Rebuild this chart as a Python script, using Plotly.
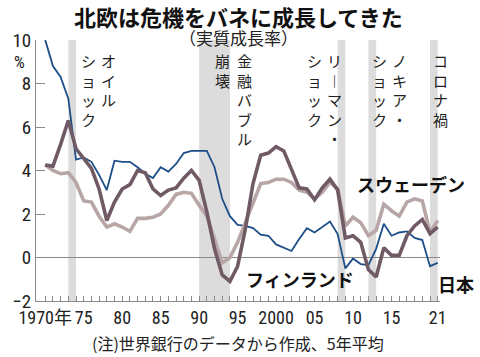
import plotly.graph_objects as go

# ---- data (5-year average real GDP growth, %) ----
years = list(range(1970, 2022))

japan = [10.0, 8.8, 8.3, 7.3, 4.5, 4.6, 4.4, 3.8, 3.1, 4.45,
         4.4, 4.4, 4.15, 3.85, 3.65, 4.15, 3.95, 4.3, 4.8, 4.9,
         4.9, 4.9, 4.15, 2.7, 1.9, 1.5, 1.45, 1.35, 1.05, 1.0,
         0.6, 0.45, 0.3, 0.85, 1.35, 1.15, 1.4, 1.65, 1.08, -0.5,
         -0.05, -0.3, -0.35, 0.4, 1.55, 1.0, 1.15, 1.2, 0.9, 0.8,
         -0.4, -0.25]

finland = [4.25, 4.2, 5.2, 6.3, 5.0, 4.55, 4.1, 3.15, 1.7, 2.55,
           3.15, 3.35, 4.0, 3.9, 3.15, 2.85, 3.1, 3.2, 3.65, 4.0,
           3.55, 2.1, 0.4, -0.8, -1.1, -0.4, 1.3, 3.4, 4.7, 4.8,
           5.1, 4.9, 4.1, 3.2, 3.15, 2.65, 3.2, 3.6, 3.1, 0.9,
           1.0, 0.7, -0.55, -0.9, 0.45, 0.1, 0.1, 1.0, 1.45, 1.75,
           1.1, 1.4]

sweden = [4.25, 4.0, 3.85, 3.9, 3.45, 2.6, 2.55, 1.9, 1.4, 1.55,
          1.4, 1.2, 1.8, 1.8, 1.85, 2.0, 2.4, 2.9, 3.0, 2.95,
          2.4, 1.9, 0.85, -0.25, 0.0, 0.7, 1.6, 2.5, 3.4, 3.45,
          3.6, 3.6, 3.45, 3.1, 3.0, 2.7, 3.0, 3.45, 3.15, 1.45,
          1.85, 1.6, 1.0, 1.25, 2.45, 2.15, 1.9, 2.55, 2.7, 2.6,
          1.15, 1.7]

band_starts = [1973, 1990, 2008, 2012, 2020]
band_ends = [1974, 1994, 2009, 2013, 2021]

y_ticks = [-2, 0, 2, 4, 6, 8, 10]
x_label_years = [1970, 1975, 1980, 1985, 1990, 1995, 2000, 2005, 2010, 2015, 2021]
x_label_text = ["1970年", "75", "80", "85", "90", "95", "2000", "05", "10", "15", "21"]

# vertical event labels: (text column, x position in years)
event_columns = [
    ("オイル", 1978.25), ("ショック", 1975.65),
    ("金融バブル", 1995.85), ("崩壊", 1993.05),
    ("リ︱マン・", 2007.55), ("ショック", 2004.95),
    ("ノキア・", 2016.1), ("ショック", 2013.45),
    ("コロナ禍", 2021.3),
]

series_labels = [("スウェーデン", 2017.5, 3.4), ("フィンランド", 2003.1, -1.0)]

# ---- figure ----
NUM_FONT = "Liberation Sans Narrow, Roboto Condensed, Liberation Sans, Arial"
JP_FONT = "Noto Sans CJK JP, Noto Sans CJK SC, sans-serif"

fig = go.Figure()

for s, e in zip(band_starts, band_ends):
    fig.add_shape(type="rect", xref="x", yref="y", x0=s, x1=e, y0=-2, y1=10,
                  fillcolor="#dcdcdc", line=dict(width=0), layer="below")

x_tick_vals = years
x_tick_text = [x_label_text[x_label_years.index(y)] if y in x_label_years else "" for y in years]

fig.add_trace(go.Scatter(x=years, y=japan, mode="lines", name="日本",
                         line=dict(color="#1d4e88", width=1.8), hoverinfo="skip"))
fig.add_trace(go.Scatter(x=years, y=sweden, mode="lines", name="スウェーデン",
                         line=dict(color="#b8a6a7", width=3.6), hoverinfo="skip"))
fig.add_trace(go.Scatter(x=years, y=finland, mode="lines", name="フィンランド",
                         line=dict(color="#705a66", width=3.6), hoverinfo="skip"))

for text, xpos in event_columns:
    fig.add_annotation(x=xpos, y=9.62, xref="x", yref="y", xanchor="center", yanchor="top",
                       text="<br>".join(list(text)), showarrow=False,
                       font=dict(family=JP_FONT, size=15, color="#222"))

for text, xpos, ypos in series_labels:
    fig.add_annotation(x=xpos, y=ypos, xref="x", yref="y", xanchor="center", yanchor="middle",
                       text="<b>" + text + "</b>", showarrow=False,
                       font=dict(family=JP_FONT, size=18, color="#111"))

fig.add_annotation(x=1.0, y=-1.2, xref="paper", yref="y", xanchor="left", yanchor="middle",
                   xshift=-4, text="<b>日本</b>", showarrow=False,
                   font=dict(family=JP_FONT, size=18, color="#111"))

fig.add_annotation(x=0.5, y=1.0, xref="paper", yref="paper", xanchor="center", yanchor="middle",
                   yshift=24, text="<b>北欧は危機をバネに成長してきた</b>", showarrow=False,
                   font=dict(family=JP_FONT, size=22, color="#111"))
fig.add_annotation(x=0.5, y=1.0, xref="paper", yref="paper", xanchor="center", yanchor="middle",
                   yshift=3, text="（実質成長率）", showarrow=False,
                   font=dict(family=JP_FONT, size=17, color="#222"))
fig.add_annotation(x=0.5, y=0, xref="paper", yref="paper", xanchor="center", yanchor="middle",
                   yshift=-42, text="(注)世界銀行のデータから作成、5年平均", showarrow=False,
                   font=dict(family=JP_FONT, size=16, color="#222"))
fig.add_annotation(x=0, y=10, xref="paper", yref="y", xanchor="right", yanchor="middle",
                   xshift=-9, yshift=-22, text="%", showarrow=False,
                   font=dict(family=NUM_FONT, size=17, color="#222"))

fig.update_layout(
    width=480, height=357,
    margin=dict(l=36, r=40, t=40, b=56),
    paper_bgcolor="white", plot_bgcolor="white",
    showlegend=False,
    font=dict(family=NUM_FONT, color="#222"),
)
fig.update_xaxes(range=[1968.8, 2021.3], showgrid=False, zeroline=False,
                 showline=True, linecolor="#8a8a8a", linewidth=1,
                 ticks="inside", ticklen=5, tickcolor="#8a8a8a",
                 tickmode="array", tickvals=x_tick_vals, ticktext=x_tick_text,
                 tickfont=dict(family=NUM_FONT + ", " + JP_FONT, size=18, color="#222"),
                 tickangle=0, fixedrange=True)
fig.update_yaxes(range=[-2, 10], showgrid=False, zeroline=True, zerolinecolor="#8a8a8a",
                 zerolinewidth=1, showline=True, linecolor="#8a8a8a", linewidth=1,
                 ticks="inside", ticklen=9, tickcolor="#8a8a8a",
                 tickmode="array", tickvals=y_ticks,
                 tickfont=dict(family=NUM_FONT, size=19, color="#222"), fixedrange=True)

fig.write_html("out.html", config={"displayModeBar": False},
               post_script="document.body.style.margin='0';document.body.style.overflow='hidden';")
